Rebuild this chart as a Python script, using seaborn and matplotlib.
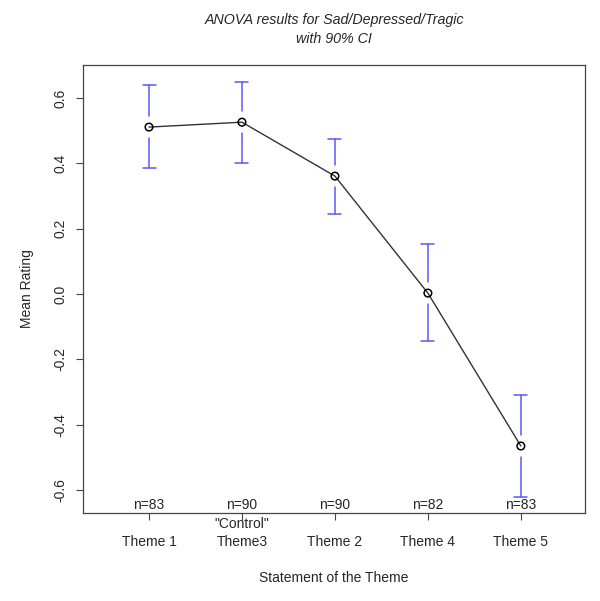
import matplotlib
matplotlib.use("Agg")
import matplotlib.pyplot as plt
import seaborn as sns
import numpy as np
import pandas as pd

categories = ["Theme 1", "Theme3", "Theme 2", "Theme 4", "Theme 5"]
means = [0.511, 0.526, 0.361, 0.003, -0.465]
ci_upper = [0.640, 0.649, 0.474, 0.153, -0.309]
ci_lower = [0.386, 0.401, 0.245, -0.144, -0.621]
n_labels = ["n=83", "n=90", "n=90", "n=82", "n=83"]
y_ticks = [-0.6, -0.4, -0.2, 0.0, 0.2, 0.4, 0.6]
y_ticklabels = ["-0.6", "-0.4", "-0.2", "0.0", "0.2", "0.4", "0.6"]

sns.set_style("white")
plt.rcParams['font.family'] = ['Liberation Sans', 'DejaVu Sans']

df = pd.DataFrame({"pos": np.arange(1, len(categories) + 1), "mean": means,
                   "lo": ci_lower, "hi": ci_upper, "cat": categories})

fig = plt.figure(figsize=(6.0, 6.01), dpi=100)
ax = fig.add_axes([83/600, 88/601, 502/600, 448/601])
ax.set_xlim(0.29, 5.69)
ax.set_ylim(-0.670, 0.701)

fig.canvas.draw()
px_per_unit = ax.transData.transform((0, 1))[1] - ax.transData.transform((0, 0))[1]
gap = 11 / px_per_unit
cap = 6.5 / (ax.transData.transform((1, 0))[0] - ax.transData.transform((0, 0))[0])

blue = "#5a5aff"
for _, r in df.iterrows():
    ax.plot([r.pos, r.pos], [r.hi, r["mean"] + gap], color=blue, lw=1.1)
    ax.plot([r.pos, r.pos], [r.lo, r["mean"] - gap], color=blue, lw=1.1)
    ax.plot([r.pos - cap, r.pos + cap], [r.hi, r.hi], color=blue, lw=1.1)
    ax.plot([r.pos - cap, r.pos + cap], [r.lo, r.lo], color=blue, lw=1.1)

sns.lineplot(data=df, x="pos", y="mean", ax=ax, color="#333333", lw=1.0,
             sort=False, legend=False)
sns.scatterplot(data=df, x="pos", y="mean", ax=ax, marker="o", s=30,
                facecolor="none", edgecolor="black", linewidth=1.1, zorder=5,
                legend=False)

for sp in ax.spines.values():
    sp.set_color("#444444")
    sp.set_linewidth(0.9)

fs = 10
ax.set_xticks(df["pos"])
ax.set_xticklabels(categories, fontsize=fs)
ax.set_yticks(y_ticks)
ax.set_yticklabels(y_ticklabels, fontsize=fs, rotation=90, va="center")
ax.tick_params(axis="both", direction="out", length=5, width=0.8,
               color="#444444", bottom=True, left=True)
ax.tick_params(axis="x", pad=11)
ax.tick_params(axis="y", pad=6)

for x, lab in zip(df["pos"], n_labels):
    ax.text(x, 0.002, lab, transform=ax.get_xaxis_transform(), ha="center",
            va="bottom", fontsize=fs)
ax.text(2, -0.008, '"Control"', transform=ax.get_xaxis_transform(),
        ha="center", va="top", fontsize=fs)

ax.set_xlabel("Statement of the Theme", fontsize=fs, labelpad=16)
ax.set_ylabel("Mean Rating", fontsize=fs, labelpad=14)
fig.text(334/600, 1 - 20/601, "ANOVA results for Sad/Depressed/Tragic",
         ha="center", va="center", fontsize=10.3, style="italic")
fig.text(334/600, 1 - 39/601, "with 90% CI", ha="center", va="center",
         fontsize=10.3, style="italic")

fig.savefig("out.png", dpi=100)
